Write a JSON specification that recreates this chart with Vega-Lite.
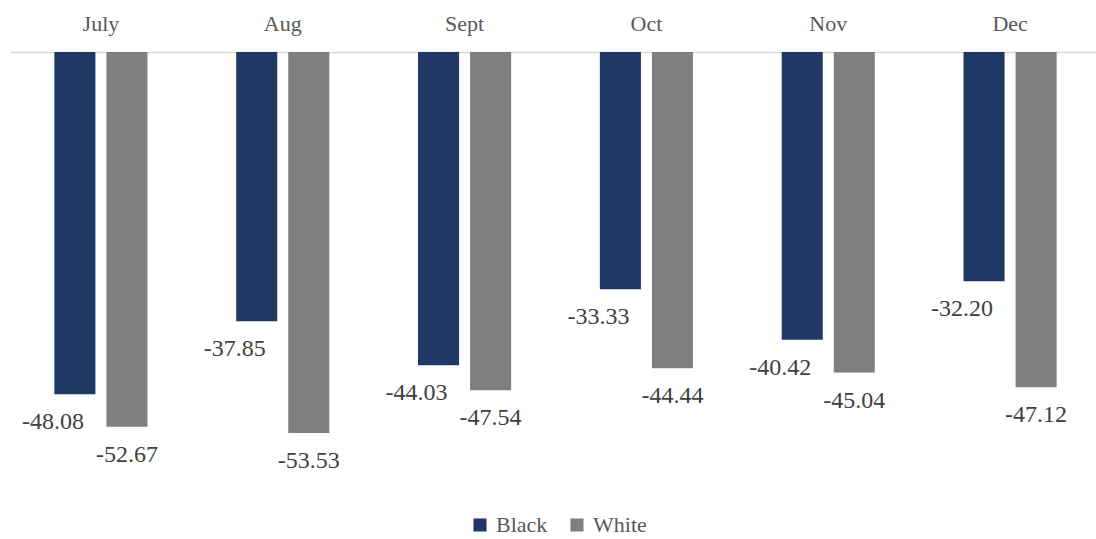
{
  "$schema": "https://vega.github.io/schema/vega-lite/v6.json",
  "width": 1086,
  "height": 427,
  "autosize": "none",
  "padding": {"left": 10, "top": 52, "right": 0, "bottom": 60},
  "background": "white",
  "config": {
    "view": {"stroke": null},
    "font": "Liberation Serif",
    "locale": {"number": {"decimal": ".", "thousands": ",", "grouping": [3], "currency": ["$", ""], "minus": "-"}}
  },
  "data": {"values": [
    {"month": "July", "group": "Black", "value": -48.08},
    {"month": "July", "group": "White", "value": -52.67},
    {"month": "Aug", "group": "Black", "value": -37.85},
    {"month": "Aug", "group": "White", "value": -53.53},
    {"month": "Sept", "group": "Black", "value": -44.03},
    {"month": "Sept", "group": "White", "value": -47.54},
    {"month": "Oct", "group": "Black", "value": -33.33},
    {"month": "Oct", "group": "White", "value": -44.44},
    {"month": "Nov", "group": "Black", "value": -40.42},
    {"month": "Nov", "group": "White", "value": -45.04},
    {"month": "Dec", "group": "Black", "value": -32.20},
    {"month": "Dec", "group": "White", "value": -47.12}
  ]},
  "encoding": {
    "x": {"field": "month", "type": "nominal", "sort": ["July", "Aug", "Sept", "Oct", "Nov", "Dec"],
      "scale": {"range": [0, 1091], "paddingInner": 0.488, "paddingOuter": 0.244},
      "axis": {"orient": "top", "title": null, "ticks": false, "labelAngle": 0, "labelFontSize": 22, "labelColor": "#595959", "labelPadding": 17, "domainColor": "#d9d9d9", "domainWidth": 1.5, "grid": false}},
    "xOffset": {"field": "group", "type": "nominal", "scale": {"paddingInner": 0.2115, "paddingOuter": 0}},
    "y": {"field": "value", "type": "quantitative", "scale": {"domain": [-60, 0], "nice": false}, "axis": null}
  },
  "layer": [
    {
      "mark": {"type": "bar"},
      "encoding": {
        "color": {"field": "group", "type": "nominal",
          "scale": {"domain": ["Black", "White"], "range": ["#203864", "#7f7f7f"]},
          "legend": {"orient": "none", "direction": "horizontal", "legendX": 459, "legendY": 462, "title": null, "symbolType": "square", "symbolSize": 170, "symbolStrokeWidth": 0, "labelFontSize": 22, "labelColor": "#595959", "columnPadding": 18, "labelOffset": 5}}
      }
    },
    {
      "transform": [{"filter": "datum.group === 'Black'"}],
      "mark": {"type": "text", "dy": 28, "dx": -22, "baseline": "middle", "fontSize": 24, "color": "#404040"},
      "encoding": {"text": {"field": "value", "type": "quantitative", "format": ".2f"}}
    },
    {
      "transform": [{"filter": "datum.group === 'White'"}],
      "mark": {"type": "text", "dy": 28, "dx": 0, "baseline": "middle", "fontSize": 24, "color": "#404040"},
      "encoding": {"text": {"field": "value", "type": "quantitative", "format": ".2f"}}
    }
  ]
}
